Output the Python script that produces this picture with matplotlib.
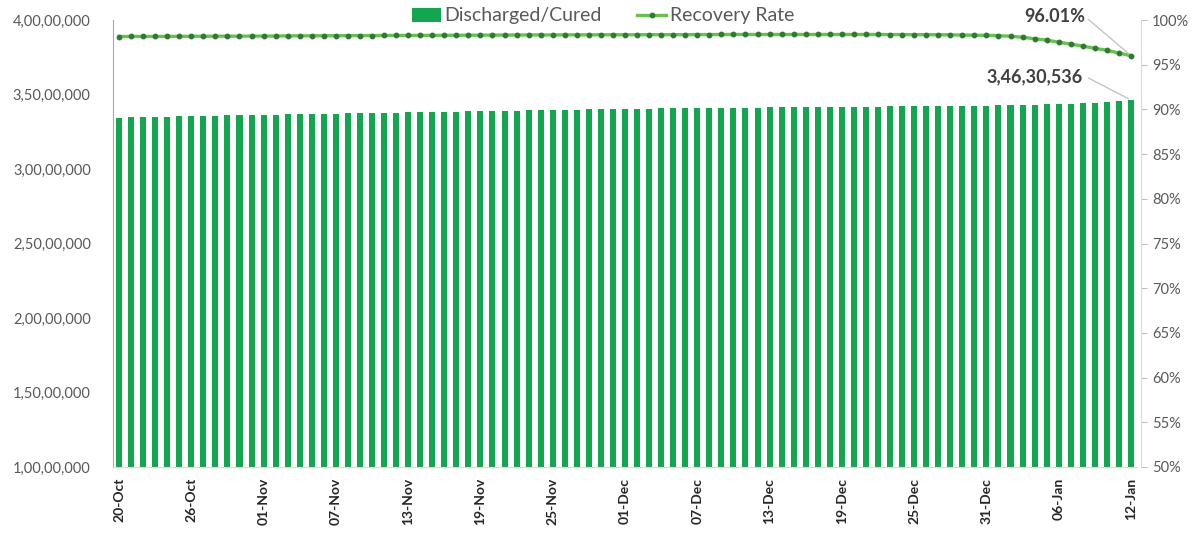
import matplotlib
matplotlib.use("Agg")
import matplotlib.pyplot as plt
import numpy as np
import datetime as dt

plt.rcParams['font.family'] = ['Lato', 'DejaVu Sans']

start = dt.date(2021, 10, 20)
n_days = 85
dates = [start + dt.timedelta(days=i) for i in range(n_days)]

cured = [
    # Oct 20-31
    33439331, 33458801, 33478247, 33495808, 33515257, 33531498, 33545950, 33562291,
    33576598, 33591600, 33606600, 33620050,
    # Nov
    33634000, 33647000, 33661000, 33674000, 33688000, 33702000, 33715000, 33729000,
    33743000, 33757000, 33771000, 33785000, 33798000, 33812000, 33825000, 33838000,
    33851000, 33864000, 33877000, 33890000, 33903000, 33916000, 33929000, 33942000,
    33955000, 33968000, 33981000, 33995000, 34011000, 34028000,
    # Dec
    34037000, 34046000, 34054000, 34063000, 34071000, 34079000, 34087000, 34094000,
    34102000, 34110000, 34117000, 34124000, 34131000, 34138000, 34145000, 34152000,
    34159000, 34166000, 34173000, 34180000, 34187000, 34194000, 34201000, 34208000,
    34215000, 34222000, 34229000, 34236000, 34243000, 34251000, 34260000,
    # Jan
    34271000, 34283000, 34297000, 34315000, 34336000, 34361000, 34390000, 34424000,
    34462000, 34505000, 34560000, 34630536,
]

recovery = [
    # Oct 20-31
    98.15, 98.16, 98.16, 98.16, 98.17, 98.17, 98.18, 98.18, 98.19, 98.19, 98.19, 98.20,
    # Nov
    98.20, 98.21, 98.22, 98.23, 98.23, 98.24, 98.24, 98.25, 98.26, 98.26, 98.27, 98.27,
    98.28, 98.28, 98.28, 98.29, 98.29, 98.30, 98.30, 98.31, 98.32, 98.32, 98.33, 98.33,
    98.33, 98.34, 98.34, 98.34, 98.35, 98.35,
    # Dec
    98.35, 98.35, 98.36, 98.36, 98.36, 98.36, 98.37, 98.37, 98.38, 98.38, 98.38, 98.38,
    98.38, 98.38, 98.38, 98.38, 98.38, 98.38, 98.38, 98.38, 98.38, 98.38, 98.37, 98.37,
    98.36, 98.36, 98.35, 98.34, 98.32, 98.30, 98.28,
    # Jan
    98.25, 98.18, 98.07, 97.90, 97.75, 97.52, 97.30, 97.08, 96.83, 96.62, 96.30, 96.01,
]

tick_every = 6
cured_label = "3,46,30,536"
rate_label = "96.01%"

bar_color = "#12A74F"
line_color = "#66C34A"
marker_color = "#2E7A34"
text_gray = "#595959"


def indian_format(v, pos=None):
    s = str(int(round(v)))
    if len(s) <= 3:
        return s
    last3 = s[-3:]
    rest = s[:-3]
    groups = []
    while len(rest) > 2:
        groups.insert(0, rest[-2:])
        rest = rest[:-2]
    if rest:
        groups.insert(0, rest)
    return ",".join(groups) + "," + last3


fig = plt.figure(figsize=(12.01, 5.40), dpi=100)
ax = fig.add_axes([113 / 1201, 1 - 467 / 540, (1137 - 113) / 1201, (467 - 20) / 540])

x = np.arange(n_days)
ax.bar(x, cured, width=0.5, color=bar_color, zorder=2, label="Discharged/Cured")
ax.set_xlim(-0.5, n_days - 0.5)
ax.set_ylim(1e7, 4e7)
ax.set_yticks(np.arange(1e7, 4.0001e7, 5e6))
ax.yaxis.set_major_formatter(plt.FuncFormatter(indian_format))
ax.tick_params(axis='y', length=0, labelsize=10.5, labelcolor=text_gray, pad=16)

tick_idx = list(range(0, n_days, tick_every))
ax.set_xticks(tick_idx)
ax.set_xticklabels([dates[i].strftime("%d-%b") for i in tick_idx], rotation=90,
                   fontsize=10, fontweight='bold', color="#262626")
ax.tick_params(axis='x', length=0, pad=8)

for s in ['top', 'right']:
    ax.spines[s].set_visible(False)
ax.spines['left'].set_color("#A6A6A6")
ax.spines['bottom'].set_color("#D9D9D9")

ax2 = ax.twinx()
ax2.plot(x, recovery, color=line_color, lw=2.4, marker='o', markersize=3.2,
         markerfacecolor=marker_color, markeredgecolor=marker_color, label="Recovery Rate",
         zorder=3)
ax2.set_ylim(50, 100)
ax2.set_yticks(np.arange(50, 100.1, 5))
ax2.set_yticklabels([f"{int(v)}%" for v in np.arange(50, 100.1, 5)])
ax2.tick_params(axis='y', length=4, color="#BFBFBF", labelsize=10.5, labelcolor=text_gray, pad=4)
for s in ['top', 'left', 'bottom']:
    ax2.spines[s].set_visible(False)
ax2.spines['right'].set_color("#D9D9D9")
ax2.spines['right'].set_position(('axes', 1.004))

# Annotations
ax2.annotate(rate_label, xy=(x[-1], recovery[-1]), xycoords='data',
             xytext=(1055 / 1201, 1 - 17 / 540), textcoords='figure fraction',
             ha='center', va='center', fontsize=13, fontweight='bold', color="#404040",
             arrowprops=dict(arrowstyle='-', color="#BFBFBF", lw=0.9,
                             shrinkA=0, shrinkB=2,
                             relpos=(1.0, 0.5)))
ax.annotate(cured_label, xy=(x[-1], cured[-1]), xycoords='data',
            xytext=(1035 / 1201, 1 - 77 / 540), textcoords='figure fraction',
            ha='center', va='center', fontsize=13, fontweight='bold', color="#404040",
            arrowprops=dict(arrowstyle='-', color="#BFBFBF", lw=0.9,
                            shrinkA=2, shrinkB=2,
                            relpos=(1.0, 0.6)))

h1, l1 = ax.get_legend_handles_labels()
h2, l2 = ax2.get_legend_handles_labels()
leg = fig.legend(h1 + h2, l1 + l2, loc='center', bbox_to_anchor=(603 / 1201, 1 - 16 / 540),
                 ncol=2, frameon=False, fontsize=14, labelcolor=text_gray,
                 handlelength=1.5, handletextpad=0.2, columnspacing=1.8)

fig.savefig("out.png", dpi=100)
